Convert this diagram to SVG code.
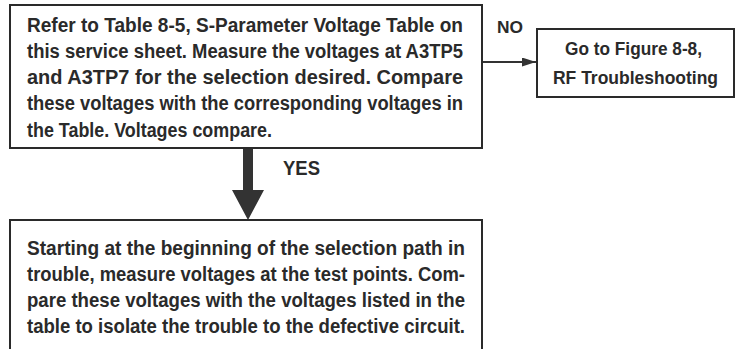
<svg xmlns="http://www.w3.org/2000/svg" width="736" height="349" viewBox="0 0 736 349">
<style>
.box{fill:#fff;stroke:#2a2a2a;stroke-width:2}
.t{font-family:"Liberation Sans",Arial,sans-serif;font-size:20px;font-weight:bold;fill:#2a2a2a}
.s{font-size:17px}
.m{font-size:19px}
.ln{stroke:#333;stroke-width:2;fill:none}
</style>
<defs>
<marker id="ah" markerWidth="14" markerHeight="9" refX="14" refY="4.5" orient="auto" markerUnits="userSpaceOnUse">
<path d="M0,0 L14,4.5 L0,9 Z" fill="#333"/>
</marker>
</defs>
<rect width="736" height="349" fill="#fff"/>
<g id="connectors">
<line class="ln" x1="482" y1="62" x2="536" y2="62" marker-end="url(#ah)"/>
<path d="M243,148 H253 V190 H264 L248,220 L232,190 H243 Z" fill="#333"/>
<text class="t" x="283" y="175" textLength="37" lengthAdjust="spacingAndGlyphs">YES</text>
<text class="t s" x="497" y="33" textLength="26" lengthAdjust="spacingAndGlyphs">NO</text>
</g>
<g id="node-check">
<rect class="box" x="10" y="5" width="472" height="143"/>
<text class="t" x="27" y="32" textLength="436" lengthAdjust="spacingAndGlyphs">Refer to Table 8-5, S-Parameter Voltage Table on</text>
<text class="t" x="27" y="58" textLength="436" lengthAdjust="spacingAndGlyphs">this service sheet. Measure the voltages at A3TP5</text>
<text class="t" x="27" y="84" textLength="436" lengthAdjust="spacingAndGlyphs">and A3TP7 for the selection desired. Compare</text>
<text class="t" x="27" y="110" textLength="436" lengthAdjust="spacingAndGlyphs">these voltages with the corresponding voltages in</text>
<text class="t" x="27" y="137" textLength="245" lengthAdjust="spacingAndGlyphs">the Table. Voltages compare.</text>
</g>
<g id="node-rf">
<rect class="box" x="537" y="29" width="197" height="68"/>
<text class="t m" x="565" y="55" textLength="137" lengthAdjust="spacingAndGlyphs">Go to Figure 8-8,</text>
<text class="t m" x="553" y="84" textLength="165" lengthAdjust="spacingAndGlyphs">RF Troubleshooting</text>
</g>
<g id="node-trouble">
<rect class="box" x="10" y="220" width="472" height="140"/>
<text class="t" x="27" y="255" textLength="438" lengthAdjust="spacingAndGlyphs">Starting at the beginning of the selection path in</text>
<text class="t" x="27" y="281" textLength="438" lengthAdjust="spacingAndGlyphs">trouble, measure voltages at the test points. Com-</text>
<text class="t" x="27" y="307" textLength="438" lengthAdjust="spacingAndGlyphs">pare these voltages with the voltages listed in the</text>
<text class="t" x="27" y="333" textLength="438" lengthAdjust="spacingAndGlyphs">table to isolate the trouble to the defective circuit.</text>
</g>
</svg>
